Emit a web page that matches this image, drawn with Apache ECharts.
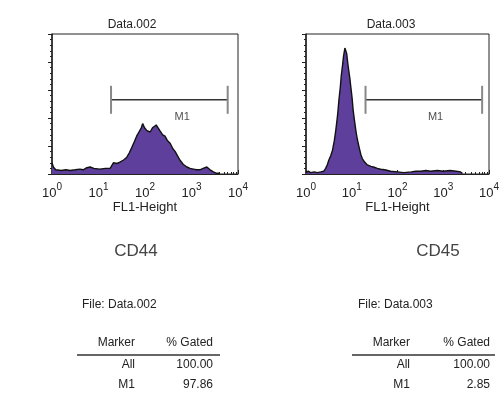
<!DOCTYPE html>
<html>
<head>
<meta charset="utf-8">
<script src="https://cdn.jsdelivr.net/npm/echarts@6/dist/echarts.min.js"></script>
<style>
  html, body { margin: 0; padding: 0; background: #fff; }
  #chart { width: 504px; height: 400px; }
</style>
</head>
<body>
<div id="chart"></div>
<script>
// FL1-Height channel values (log axis) and event counts
var cd44X = [1, 1.07, 1.2, 1.58, 2.0, 2.45, 3.16, 3.98, 4.68, 5.62, 6.61, 7.94, 10.7, 14.1, 17.8, 20.9, 25.1, 28.8, 34.7, 40.7, 45.7, 51.3, 58.9, 66.1, 74.1, 83.2, 89.1, 97.7, 110, 120, 129, 145, 158, 174, 191, 209, 240, 269, 302, 347, 398, 447, 501, 562, 661, 794, 933, 1096, 1288, 1514, 1778, 2138, 2512, 2951, 3467, 3981];
var cd44Y = [8, 5, 3, 2.5, 3, 2.5, 3, 3.5, 3, 4.5, 5, 4, 3.5, 4, 4, 8, 7.5, 8.5, 10, 12, 15, 18.5, 23, 27, 30, 33, 36, 33, 31, 32, 30, 33, 34, 35, 33, 31, 28, 27, 24, 22, 18, 16, 13, 10, 7, 5, 4, 3.5, 3, 3, 4, 5, 3, 1.5, 0.5, 0.5];

var cd45X = [1, 1.12, 1.26, 1.51, 1.78, 2.09, 2.45, 2.69, 2.95, 3.16, 3.47, 3.8, 4.17, 4.47, 4.9, 5.25, 5.62, 5.89, 6.31, 6.61, 7.08, 7.41, 7.76, 8.13, 8.51, 9.12, 9.55, 10.2, 10.7, 11.5, 12.3, 13.2, 14.5, 15.8, 17.0, 19.1, 21.9, 26.3, 30.9, 36.3, 42.7, 52.5, 70.8, 100, 138, 200, 251, 324, 417, 525, 741, 1000, 1413, 1905, 2399, 2630];
var cd45Y = [1, 2, 1, 1.5, 1, 1.5, 2, 4, 7, 10, 13, 17, 24, 31, 42, 53, 62, 70, 78, 84, 90, 88, 86, 80, 75, 68, 62, 54, 46, 38, 31, 25, 19, 14, 11, 8.5, 6.5, 5.5, 4.8, 4, 3.4, 3, 2, 1.5, 1, 1.5, 2, 2, 2.5, 2, 2.5, 2, 2.5, 2, 1.5, 0.3];

// M1 gate: [low, high] channel, bar level, cap half-height, label position
var gate1 = [18.6, 6000];
var gate2 = [20, 7080];
var gateLevel = 53;
var capHalf = 10;
var gateLabel1 = [630, 41];
var gateLabel2 = [680, 41];

var plotTitles = ['Data.002', 'Data.003'];
var markerNames = ['CD44', 'CD45'];
var fileNames = ['File: Data.002', 'File: Data.003'];
var tableHead = ['Marker', '% Gated'];
var tableRows = ['All', 'M1'];
var gated1 = ['100.00', '97.86'];
var gated2 = ['100.00', '2.85'];

var chart = echarts.init(document.getElementById('chart'));

var txt = '#222';
var fill = '#5e3f9c';

function xAxisFor(idx) {
    return {
        type: 'log',
        logBase: 10,
        gridIndex: idx,
        min: 1,
        max: 10000,
        interval: 1,
        name: 'FL1-Height',
        nameLocation: 'middle',
        nameGap: 26,
        nameTextStyle: { color: txt, fontSize: 13, fontFamily: 'Liberation Sans' },
        axisLine: { lineStyle: { color: '#222', width: 1 } },
        axisTick: { inside: true, length: 4, lineStyle: { color: '#222' } },
        minorTick: { show: true, splitNumber: 9, length: 2, lineStyle: { color: '#222' } },
        splitLine: { show: false },
        axisLabel: {
            margin: 8,
            formatter: function (v) {
                return '{b|10}{s|' + Math.round(Math.log10(v)) + '}';
            },
            rich: {
                b: { fontSize: 13, color: txt, fontFamily: 'Liberation Sans', verticalAlign: 'bottom', lineHeight: 18 },
                s: { fontSize: 10, color: txt, fontFamily: 'Liberation Sans', verticalAlign: 'top', lineHeight: 18 }
            }
        }
    };
}

function yAxisFor(idx) {
    return {
        type: 'value',
        gridIndex: idx,
        min: 0,
        max: 100,
        interval: 20,
        axisLine: { show: true, lineStyle: { color: '#222', width: 1.5 } },
        axisTick: { show: true, length: 4, lineStyle: { color: '#222' } },
        minorTick: { show: true, splitNumber: 5, length: 2, lineStyle: { color: '#222' } },
        axisLabel: { show: false },
        splitLine: { show: false }
    };
}

function histSeries(idx, xs, ys) {
    var pts = [];
    for (var i = 0; i < xs.length; i++) pts.push([xs[i], ys[i]]);
    return {
        type: 'line',
        xAxisIndex: idx,
        yAxisIndex: idx,
        data: pts,
        symbol: 'none',
        lineStyle: { color: '#111', width: 1.4 },
        areaStyle: { color: fill, opacity: 1 },
        z: 2
    };
}

function gateSeries(idx, g, lab) {
    var out = [];
    out.push({
        type: 'line', xAxisIndex: idx, yAxisIndex: idx, symbol: 'none', silent: true,
        data: [[g[0], gateLevel], [g[1], gateLevel]],
        lineStyle: { color: '#333', width: 1.5 }, z: 3
    });
    for (var i = 0; i < 2; i++) {
        out.push({
            type: 'line', xAxisIndex: idx, yAxisIndex: idx, symbol: 'none', silent: true,
            data: [[g[i], gateLevel - capHalf], [g[i], gateLevel + capHalf]],
            lineStyle: { color: '#888', width: 2 }, z: 3
        });
    }
    out.push({
        type: 'scatter', xAxisIndex: idx, yAxisIndex: idx, symbolSize: 0, silent: true,
        data: [lab],
        label: { show: true, position: 'inside', formatter: 'M1', color: '#222', fontSize: 11, fontFamily: 'Liberation Sans' },
        z: 4
    });
    return out;
}

var series = [histSeries(0, cd44X, cd44Y), histSeries(1, cd45X, cd45Y)]
    .concat(gateSeries(0, gate1, gateLabel1))
    .concat(gateSeries(1, gate2, gateLabel2));

// text blocks under the plots
var graphics = [];
var panelCenters = [136, 438];
var fileLeft = [82, 358];
var markerRight = [135, 410];
var gatedRight = [213, 490];
var ruleX = [[77, 220], [352, 495]];
var gatedCols = [gated1, gated2];
function addText(x, y, s, size, align, color) {
    graphics.push({
        type: 'text', x: x, y: y,
        style: { text: s, fontSize: size, fontFamily: 'Liberation Sans', fill: color || txt, align: align, verticalAlign: 'middle' }
    });
}
for (var p = 0; p < 2; p++) {
    addText(panelCenters[p], 251, markerNames[p], 17, 'center', '#444');
    addText(fileLeft[p], 305, fileNames[p], 12, 'left');
    addText(markerRight[p], 343, tableHead[0], 12, 'right');
    addText(gatedRight[p], 343, tableHead[1], 12, 'right');
    graphics.push({
        type: 'line',
        shape: { x1: ruleX[p][0], y1: 355, x2: ruleX[p][1], y2: 355 },
        style: { stroke: '#333', lineWidth: 1.5 }
    });
    for (var r = 0; r < tableRows.length; r++) {
        addText(markerRight[p], 365 + r * 20, tableRows[r], 12, 'right');
        addText(gatedRight[p], 365 + r * 20, gatedCols[p][r], 12, 'right');
    }
}

var option = {
    backgroundColor: '#fff',
    animation: false,
    title: [
        { text: plotTitles[0], left: 127, top: 14, textAlign: 'center', textStyle: { fontSize: 12, fontWeight: 'normal', color: txt, fontFamily: 'Liberation Sans' } },
        { text: plotTitles[1], left: 386, top: 14, textAlign: 'center', textStyle: { fontSize: 12, fontWeight: 'normal', color: txt, fontFamily: 'Liberation Sans' } }
    ],
    grid: [
        { left: 52, top: 34, width: 186, height: 140, show: true, borderColor: '#222', borderWidth: 1, backgroundColor: 'transparent' },
        { left: 306, top: 34, width: 183, height: 140, show: true, borderColor: '#222', borderWidth: 1, backgroundColor: 'transparent' }
    ],
    xAxis: [xAxisFor(0), xAxisFor(1)],
    yAxis: [yAxisFor(0), yAxisFor(1)],
    series: series,
    graphic: graphics
};
chart.setOption(option);
</script>
</body>
</html>
